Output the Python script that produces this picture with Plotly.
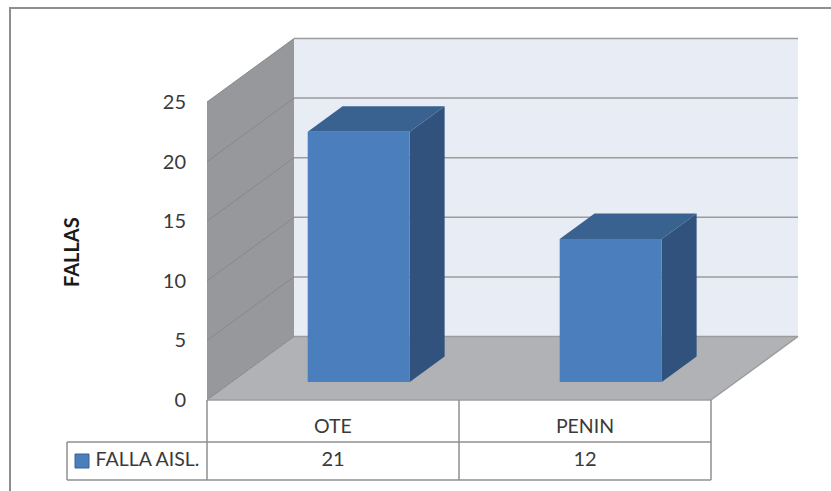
import plotly.graph_objects as go

categories = ["OTE", "PENIN"]
series_name = "FALLA AISL."
falla_values = [21, 12]
y_ticks = [0, 5, 10, 15, 20, 25]
axis_title = "FALLAS"

# Page size and scale of the drawing (pixels per axis unit)
W, H = 831, 491
X0, Y0 = 207, 400
PX_PER_CAT = 252
PX_PER_VAL = 298 / 25

# Oblique projection: full depth of the chart box, in axis units
DEPTH_X = 87 / PX_PER_CAT
DEPTH_Y = 63.5 / PX_PER_VAL
YMAX = 25
NCAT = len(categories)

# Bar placement inside the box
BAR_WIDTH = 0.405
BAR_CENTER = 0.504
BAR_FRONT = 0.284
BAR_BACK = 0.685

WALL = "#96989b"
FLOOR = "#b1b2b6"
BACK = "#e8ecf5"
GRID = "#9c9c9c"
FRONT = "#4a7ebc"
TOP = "#3a6290"
SIDE = "#30527c"
TABLE = "#8f8f8f"
TEXT = "#3a3a3a"
FONT = "Lato"


def proj(x, v, d=0.0):
    return x + d * DEPTH_X, v + d * DEPTH_Y


def poly(points, fill):
    xs, ys = zip(*points)
    return go.Scatter(x=list(xs) + [xs[0]], y=list(ys) + [ys[0]], mode="lines", fill="toself",
                      fillcolor=fill, line=dict(width=0, color=fill), hoverinfo="skip", showlegend=False)


def line(points, color, width=1.5):
    xs, ys = zip(*points)
    return go.Scatter(x=list(xs), y=list(ys), mode="lines", line=dict(color=color, width=width),
                      hoverinfo="skip", showlegend=False)


def px_x(p):
    return (p - X0) / PX_PER_CAT


def px_y(p):
    return (Y0 - p) / PX_PER_VAL


fig = go.Figure()

# Chart box: back wall, side wall and floor
fig.add_trace(poly([proj(0, 0, 1), proj(NCAT, 0, 1), proj(NCAT, YMAX, 1), proj(0, YMAX, 1)], BACK))
fig.add_trace(poly([proj(0, 0), proj(0, 0, 1), proj(0, YMAX, 1), proj(0, YMAX)], WALL))
fig.add_trace(poly([proj(0, 0), proj(0, 0, 1), proj(NCAT, 0, 1), proj(NCAT, 0)], FLOOR))

# Gridlines run along the side wall and across the back wall
for t in y_ticks:
    fig.add_trace(line([proj(0, t), proj(0, t, 1)], "#87888b", 1))
    fig.add_trace(line([proj(0, t, 1), proj(NCAT, t, 1)], GRID, 1.5))
fig.add_trace(line([proj(0, 0), proj(NCAT, 0)], GRID, 1.5))
fig.add_trace(line([proj(NCAT, 0), proj(NCAT, 0, 1)], GRID, 1.5))

# Bars with front, top and right faces
for i, v in enumerate(falla_values):
    left = i + BAR_CENTER - BAR_WIDTH / 2
    right = left + BAR_WIDTH
    f, b = BAR_FRONT, BAR_BACK
    fig.add_trace(poly([proj(right, 0, f), proj(right, 0, b), proj(right, v, b), proj(right, v, f)], SIDE))
    fig.add_trace(poly([proj(left, v, f), proj(right, v, f), proj(right, v, b), proj(left, v, b)], TOP))
    fig.add_trace(poly([proj(left, 0, f), proj(right, 0, f), proj(right, v, f), proj(left, v, f)], FRONT))

# Data table under the plot
row1, row2 = px_y(442), px_y(480)
legend_left = px_x(67)
fig.add_trace(line([(legend_left, row1), (NCAT, row1)], TABLE))
fig.add_trace(line([(legend_left, row2), (NCAT, row2)], TABLE))
fig.add_trace(line([(legend_left, row1), (legend_left, row2)], TABLE))
for i in range(NCAT + 1):
    fig.add_trace(line([(i, 0), (i, row2)], TABLE))

mid1 = (0 + row1) / 2 - 1 / PX_PER_VAL * 7
mid2 = (row1 + row2) / 2
fig.add_trace(go.Scatter(x=[i + 0.5 for i in range(NCAT)], y=[mid1] * NCAT, text=categories, mode="text",
                         textfont=dict(family=FONT, size=19.5, color=TEXT), hoverinfo="skip", showlegend=False))
fig.add_trace(go.Scatter(x=[i + 0.5 for i in range(NCAT)], y=[mid2] * NCAT, text=[str(v) for v in falla_values],
                         mode="text", textfont=dict(family=FONT, size=20, color=TEXT), hoverinfo="skip",
                         showlegend=False))
fig.add_trace(go.Scatter(x=[px_x(82)], y=[mid2], mode="markers",
                         marker=dict(symbol="square", size=14, color=FRONT, line=dict(color="#3a6290", width=1)),
                         hoverinfo="skip", showlegend=False))
fig.add_trace(go.Scatter(x=[px_x(147.5)], y=[mid2], text=[series_name], mode="text",
                         textfont=dict(family=FONT, size=19.5, color=TEXT), hoverinfo="skip", showlegend=False))

# Axis title
fig.add_annotation(x=px_x(71), y=px_y(252), text=f"<b>{axis_title}</b>", textangle=-90, showarrow=False,
                   font=dict(family=FONT, size=20, color="#1a1a1a"))

# Outer frame, open on the right and at the bottom
frame_l, frame_t = px_x(10), px_y(8)
fig.add_trace(line([(px_x(W), frame_t), (frame_l, frame_t), (frame_l, px_y(H))], "#8e8e8e", 2))

fig.update_layout(
    width=W, height=H, margin=dict(l=0, r=0, t=0, b=0),
    paper_bgcolor="white", plot_bgcolor="white", showlegend=False,
    xaxis=dict(range=[px_x(0), px_x(W)], visible=False, fixedrange=True),
    yaxis=dict(range=[px_y(H), px_y(0)], anchor="free", position=X0 / W, tickvals=y_ticks,
               showgrid=False, zeroline=False, showline=False, ticks="", ticklabelstandoff=21,
               tickfont=dict(family=FONT, size=20, color=TEXT), fixedrange=True),
)

fig.write_html("out.html", config={"displayModeBar": False})
